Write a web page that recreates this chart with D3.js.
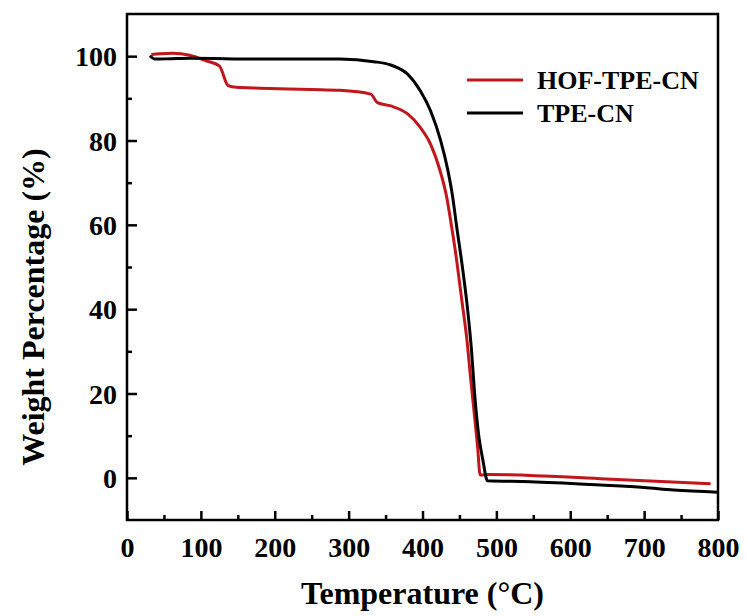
<!DOCTYPE html>
<html>
<head>
<meta charset="utf-8">
<script src="https://cdn.jsdelivr.net/npm/d3@7/dist/d3.min.js"></script>
<style>
    body { margin: 0; background: #ffffff; }
    text { font-family: "Liberation Serif", "Times New Roman", serif; font-weight: bold; fill: #000; }
</style>
</head>
<body>
<div id="tga-chart"></div>
<script>
// TGA curves
var hofTemp = [33, 45, 62, 85, 107, 125, 137, 148, 180, 250, 288, 330, 339, 357, 380, 397, 411, 424, 432.5, 439, 446, 453, 460, 465, 470.5, 474.6, 478, 490, 641, 790];
var hofWeight = [100.4, 100.6, 100.7, 100.2, 98.9, 97.7, 93.0, 92.6, 92.4, 92.1, 91.9, 91.0, 89.0, 88.2, 86.3, 83.1, 79.1, 72.7, 66.8, 60.0, 51.9, 42.4, 32.9, 23.9, 14.5, 7.3, 0.7, 0.8, -0.2, -1.4];

var tpeTemp = [31, 38, 60, 85, 180, 288, 334, 357, 380, 397, 411, 424.4, 434, 440.7, 446, 454, 461, 466.4, 470.5, 476, 481.4, 488, 546, 641, 700, 740, 800];
var tpeWeight = [100.1, 99.3, 99.4, 99.5, 99.3, 99.3, 98.7, 97.9, 95.7, 91.8, 87.0, 80.1, 73.2, 66.8, 59.9, 50.0, 40.0, 30.1, 20.1, 10.2, 4.5, -0.7, -0.9, -1.7, -2.3, -2.9, -3.4];

var seriesNames = ["HOF-TPE-CN", "TPE-CN"];
var seriesColors = ["#c0161c", "#000000"];

var xTicks = [0, 100, 200, 300, 400, 500, 600, 700, 800];
var xMinorTicks = [50, 150, 250, 350, 450, 550, 650, 750];
var yTicks = [0, 20, 40, 60, 80, 100];
var yMinorTicks = [10, 30, 50, 70, 90];

var tgamargin = {top: 14, right: 29, bottom: 96, left: 127}
    , tgawidth = 747 - tgamargin.left - tgamargin.right
    , tgaheight = 616 - tgamargin.top - tgamargin.bottom;

var svg = d3.select("#tga-chart").append("svg")
    .attr("width", 747)
    .attr("height", 616);

var g = svg.append("g")
    .attr("transform", "translate(" + tgamargin.left + "," + tgamargin.top + ")");

var x = d3.scaleLinear().domain([0, 800]).range([0, tgawidth]);
var y = d3.scaleLinear().domain([-10, 110]).range([tgaheight, 0]);

var series = [
    {name: seriesNames[0], color: seriesColors[0], values: hofTemp.map((t, i) => [t, hofWeight[i]])},
    {name: seriesNames[1], color: seriesColors[1], values: tpeTemp.map((t, i) => [t, tpeWeight[i]])}
];

var line = d3.line()
    .x(d => x(d[0]))
    .y(d => y(d[1]))
    .curve(d3.curveMonotoneX);

// curves (black drawn last so it sits on top)
g.selectAll(".curve")
    .data(series)
    .enter().append("path")
    .attr("class", "curve")
    .attr("d", d => line(d.values))
    .attr("fill", "none")
    .attr("stroke", d => d.color)
    .attr("stroke-width", 3)
    .attr("stroke-linejoin", "round");

// axes, ticks pointing inward
function styleAxis(sel) {
    sel.select(".domain").remove();
    sel.selectAll("line").attr("stroke", "#000").attr("stroke-width", 2.5);
    sel.selectAll("text").style("font-size", "28px").style("font-family", null);
}

g.append("g")
    .attr("transform", "translate(0," + tgaheight + ")")
    .call(d3.axisBottom(x).tickValues(xTicks).tickSizeInner(-9).tickSizeOuter(0))
    .call(styleAxis)
    .selectAll("text").attr("dy", "0").attr("y", 37);

g.append("g")
    .attr("transform", "translate(0," + tgaheight + ")")
    .call(d3.axisBottom(x).tickValues(xMinorTicks).tickSizeInner(-5).tickSizeOuter(0).tickFormat(""))
    .call(styleAxis);

g.append("g")
    .call(d3.axisLeft(y).tickValues(yTicks).tickSizeInner(-10).tickSizeOuter(0))
    .call(styleAxis)
    .selectAll("text").attr("x", -10).attr("dy", "0.35em");

g.append("g")
    .call(d3.axisLeft(y).tickValues(yMinorTicks).tickSizeInner(-5).tickSizeOuter(0).tickFormat(""))
    .call(styleAxis);

// frame
g.append("rect")
    .attr("width", tgawidth)
    .attr("height", tgaheight)
    .attr("fill", "none")
    .attr("stroke", "#000")
    .attr("stroke-width", 2.5);

// axis titles
svg.append("text")
    .attr("x", tgamargin.left + tgawidth / 2)
    .attr("y", 604)
    .attr("text-anchor", "middle")
    .style("font-size", "32px")
    .text("Temperature (°C)");

svg.append("text")
    .attr("transform", "translate(44,307) rotate(-90)")
    .attr("text-anchor", "middle")
    .style("font-size", "32px")
    .text("Weight Percentage (%)");

// legend
var legend = svg.selectAll(".legend")
    .data(series)
    .enter().append("g")
    .attr("class", "legend")
    .attr("transform", (d, i) => "translate(467," + (80 + i * 33) + ")");

legend.append("line")
    .attr("x1", 0).attr("x2", 56)
    .attr("stroke", d => d.color)
    .attr("stroke-width", 3);

legend.append("text")
    .attr("x", 70)
    .attr("dy", "0.35em")
    .style("font-size", "26px")
    .text(d => d.name);
</script>
</body>
</html>
